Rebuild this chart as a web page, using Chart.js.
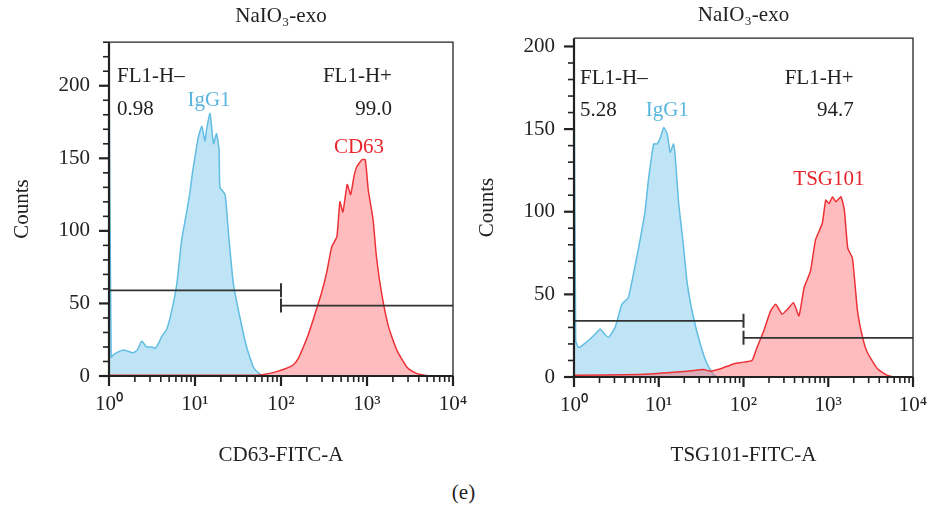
<!DOCTYPE html>
<html>
<head>
<meta charset="utf-8">
<script src="https://cdn.jsdelivr.net/npm/chart.js@4.4.1/dist/chart.umd.min.js"></script>
<style>
  html, body { margin: 0; padding: 0; background: #fff; }
  #wrap { position: relative; width: 927px; height: 506px; }
  canvas { position: absolute; top: 0; }
  #left { left: 0; }
  #right { left: 463px; }
  #caption { position: absolute; left: 0; width: 927px; top: 480px; text-align: center;
             font: 21px 'Liberation Serif', serif; color: #222; line-height: 24px; }
</style>
</head>
<body>
<div id="wrap">
  <canvas id="left" width="480" height="470"></canvas>
  <canvas id="right" width="464" height="470"></canvas>
  <div id="caption">(e)</div>
</div>
<script>
// ---- data (x in decades of intensity, y = counts) ----
const xTickLabels = ['10⁰', '10¹', '10²', '10³', '10⁴'];
const yTickLabels = [0, 50, 100, 150, 200];

// left panel: CD63
const leftIggDecade = [0, 0.025, 0.06, 0.12, 0.17, 0.22, 0.28, 0.33, 0.38, 0.41, 0.44, 0.5, 0.535, 0.58, 0.61,
  0.67, 0.73, 0.79, 0.845, 0.9, 0.94, 0.97, 1.0, 1.04, 1.08, 1.115, 1.135, 1.175, 1.215, 1.25, 1.28, 1.29,
  1.35, 1.39, 1.445, 1.52, 1.6, 1.68, 1.75, 1.8, 2.0, 4.0];
const leftIggCounts = [223, 13, 15, 17, 18, 17, 16, 18, 24, 22, 20, 20, 19, 23, 27,
  32, 45, 64, 94, 112, 126, 140, 151, 165, 172, 162, 170, 181, 160, 167, 156, 130,
  125, 98, 64, 41, 20, 6, 1.5, 0, 0, 0];

const leftCd63Decade = [0, 1.7, 1.8, 1.95, 2.05, 2.14, 2.2, 2.26, 2.32, 2.375, 2.47, 2.53, 2.59, 2.65, 2.685,
  2.72, 2.77, 2.81, 2.85, 2.88, 2.94, 2.98, 3.015, 3.07, 3.11, 3.17, 3.25, 3.345, 3.46, 3.55, 3.62, 3.75, 4.0];
const leftCd63Counts = [0.5, 0.5, 1, 3, 5, 7.6, 12, 20, 29, 39, 57, 71, 89, 96, 120,
  113, 132, 125, 138, 144, 149, 149, 128, 108, 82, 57, 34, 18, 6.4, 2.5, 1, 0, 0];

const leftGateNeg = [59, 59];      // 10^0 .. 10^2
const leftGatePos = [48.5, 48.5];  // 10^2 .. 10^4

// right panel: TSG101
const rightIggDecade = [0, 0.02, 0.05, 0.07, 0.12, 0.19, 0.25, 0.31, 0.36, 0.41, 0.485, 0.53, 0.565, 0.64,
  0.7, 0.78, 0.84, 0.88, 0.94, 0.98, 1.02, 1.06, 1.1, 1.135, 1.175, 1.195, 1.235, 1.29, 1.335, 1.41, 1.49,
  1.57, 1.65, 1.72, 4.0];
const rightIggCounts = [198, 22, 18, 18, 20, 23, 26, 29, 26, 24, 30, 38, 44, 48,
  62, 83, 101, 120, 141, 141, 145, 151, 147, 136, 141, 133, 105, 80, 57, 36, 20,
  8, 1, 0, 0];

const rightTsgDecade = [0, 0.78, 1.1, 1.335, 1.53, 1.61, 1.73, 1.89, 2.0, 2.1, 2.16, 2.24, 2.32, 2.38, 2.455,
  2.52, 2.59, 2.655, 2.715, 2.79, 2.85, 2.93, 2.97, 3.01, 3.05, 3.09, 3.15, 3.19, 3.23, 3.285, 3.345, 3.405,
  3.46, 3.58, 3.7, 3.8, 4.0];
const rightTsgCounts = [1, 1.5, 2.5, 3.5, 4.5, 3.5, 5, 8, 9, 10, 18, 28, 40, 44, 38,
  41, 45, 37, 54, 64, 83, 93, 107, 105, 109, 106, 109, 101, 78, 72, 40, 24,
  15, 5, 1, 0, 0];

const rightGateNeg = [34, 34];
const rightGatePos = [23.7, 23.7];

const gateDecades = { neg: [0, 2], pos: [2, 4] };

// ---- helpers ----
const FONT = "'Liberation Serif', 'Times New Roman', serif";
const FS = 21;
const INK = '#222';
const BLUE = '#62bde3', BLUE_FILL = 'rgba(110,195,232,0.45)', BLUE_TEXT = '#5ab6df';
const RED = '#ec3237', RED_FILL = 'rgba(255,95,100,0.42)', RED_TEXT = '#e8262d';

const isDecade = v => { const e = Math.log10(v); return Math.abs(e - Math.round(e)) < 1e-9; };
const toPoints = (dec, cnt) => dec.map((d, i) => ({ x: 10 ** d, y: cnt[i] }));

// all log ticks 1..9 per decade
const logTicks = [];
for (let e = 0; e < 4; e++) for (let m = 1; m < 10; m++) logTicks.push(m * 10 ** e);
logTicks.push(10000);

// frame, tick marks and text labels
const frameAndTicks = {
  id: 'frameAndTicks',
  afterDatasetsDraw(chart, args, opts) {
    const { ctx, chartArea: a, scales: { x, y } } = chart;
    ctx.save();
    ctx.strokeStyle = INK;
    x.ticks.forEach(t => {
      const px = x.getPixelForValue(t.value);
      const major = isDecade(t.value);
      ctx.lineWidth = major ? 2.2 : 1.6;
      ctx.beginPath();
      ctx.moveTo(px, a.bottom);
      ctx.lineTo(px, a.bottom + (major ? 10 : 6));
      ctx.stroke();
    });
    y.ticks.forEach(t => {
      const py = y.getPixelForValue(t.value);
      const major = yTickLabels.includes(t.value);
      ctx.lineWidth = major ? 2.2 : 1.6;
      ctx.beginPath();
      ctx.moveTo(a.left, py);
      ctx.lineTo(a.left - (major ? 10 : 6), py);
      ctx.stroke();
    });
    // box
    ctx.lineWidth = 1.3;
    ctx.beginPath();
    ctx.moveTo(a.left, a.top); ctx.lineTo(a.right, a.top); ctx.lineTo(a.right, a.bottom);
    ctx.stroke();
    ctx.lineWidth = 2.2;
    ctx.beginPath();
    ctx.moveTo(a.left, a.top); ctx.lineTo(a.left, a.bottom); ctx.lineTo(a.right, a.bottom);
    ctx.stroke();
    // labels
    ctx.font = FS + 'px ' + FONT;
    ctx.textBaseline = 'middle';
    opts.notes.forEach(n => {
      ctx.fillStyle = n.color || INK;
      ctx.textAlign = n.align;
      ctx.fillText(n.text, x.getPixelForValue(10 ** n.d), y.getPixelForValue(n.c));
    });
    ctx.restore();
  }
};

function makeChart(id, cfg) {
  const gate = (vals, dec, radii) => ({
    data: [{ x: 10 ** dec[0], y: vals[0] }, { x: 10 ** dec[1], y: vals[1] }],
    borderColor: '#333', borderWidth: 1.8, fill: false, order: 0,
    pointStyle: 'line', pointRotation: 90, pointRadius: radii, pointBorderWidth: 2,
    pointBorderColor: '#333'
  });
  return new Chart(document.getElementById(id), {
    type: 'line',
    data: {
      datasets: [
        gate(cfg.gateNeg, gateDecades.neg, [0, 7]),
        gate(cfg.gatePos, gateDecades.pos, [7, 0]),
        { data: toPoints(cfg.redDec, cfg.redCnt), borderColor: RED, backgroundColor: RED_FILL,
          borderWidth: 1.5, fill: 'origin', pointRadius: 0, tension: 0.15, order: 1 },
        { data: toPoints(cfg.blueDec, cfg.blueCnt), borderColor: BLUE, backgroundColor: BLUE_FILL,
          borderWidth: 1.5, fill: 'origin', pointRadius: 0, tension: 0.15, order: 2 }
      ]
    },
    options: {
      responsive: false,
      animation: false,
      layout: { autoPadding: false, padding: { left: 0, right: cfg.padRight, top: 0, bottom: 0 } },
      plugins: {
        legend: { display: false },
        tooltip: { enabled: false },
        title: { display: true, text: 'NaIO₃-exo', fullSize: false, color: INK,
                 font: { family: FONT, size: FS, weight: 'normal' }, padding: cfg.titlePad },
        frameAndTicks: { notes: cfg.notes }
      },
      scales: {
        x: {
          type: 'logarithmic', min: 1, max: 10000,
          afterBuildTicks: s => { s.ticks = logTicks.map(v => ({ value: v })); },
          afterFit: s => { s.height = cfg.xHeight; s.paddingLeft = 0; s.paddingRight = 0; },
          grid: { display: false, drawTicks: false },
          border: { display: false },
          ticks: { autoSkip: false, maxRotation: 0, minRotation: 0, padding: 16, color: INK,
                   font: { family: FONT, size: FS },
                   callback: v => isDecade(v) ? xTickLabels[Math.round(Math.log10(v))] : '' },
          title: { display: true, text: cfg.xTitle, color: INK, font: { family: FONT, size: FS },
                   padding: { top: 0, bottom: 2 } }
        },
        y: {
          min: 0, max: cfg.yMax,
          afterFit: s => { s.width = cfg.yWidth; s.paddingTop = 0; s.paddingBottom = 0; },
          grid: { display: false, drawTicks: false },
          border: { display: false },
          ticks: { stepSize: 10, autoSkip: false, includeBounds: false, padding: 19, color: INK,
                   font: { family: FONT, size: FS },
                   callback: v => yTickLabels.includes(v) ? String(v) : '' },
          title: { display: true, text: 'Counts', color: INK, font: { family: FONT, size: FS },
                   padding: { top: cfg.yTitlePad } }
        }
      }
    },
    plugins: [frameAndTicks]
  });
}

makeChart('left', {
  blueDec: leftIggDecade, blueCnt: leftIggCounts,
  redDec: leftCd63Decade, redCnt: leftCd63Counts,
  gateNeg: leftGateNeg, gatePos: leftGatePos,
  yMax: 230, yWidth: 109, padRight: 27, xHeight: 94, titlePad: { top: 4, bottom: 13 }, yTitlePad: 10,
  xTitle: 'CD63-FITC-A',
  notes: [
    { text: 'FL1-H–', d: 0.093, c: 206.6, align: 'left' },
    { text: '0.98', d: 0.093, c: 183.9, align: 'left' },
    { text: 'IgG1', d: 1.163, c: 190, align: 'center', color: BLUE_TEXT },
    { text: 'FL1-H+', d: 3.29, c: 206.6, align: 'right' },
    { text: '99.0', d: 3.29, c: 183.9, align: 'right' },
    { text: 'CD63', d: 2.907, c: 157.7, align: 'center', color: RED_TEXT }
  ]
});

makeChart('right', {
  blueDec: rightIggDecade, blueCnt: rightIggCounts,
  redDec: rightTsgDecade, redCnt: rightTsgCounts,
  gateNeg: rightGateNeg, gatePos: rightGatePos,
  yMax: 205, yWidth: 111, padRight: 14, xHeight: 93, titlePad: { top: 3, bottom: 10 }, yTitlePad: 12,
  xTitle: 'TSG101-FITC-A',
  notes: [
    { text: 'FL1-H–', d: 0.071, c: 180.7, align: 'left' },
    { text: '5.28', d: 0.071, c: 161.3, align: 'left' },
    { text: 'IgG1', d: 1.10, c: 161.3, align: 'center', color: BLUE_TEXT },
    { text: 'FL1-H+', d: 3.30, c: 180.7, align: 'right' },
    { text: '94.7', d: 3.30, c: 161.3, align: 'right' },
    { text: 'TSG101', d: 3.008, c: 119.6, align: 'center', color: RED_TEXT }
  ]
});
</script>
</body>
</html>
